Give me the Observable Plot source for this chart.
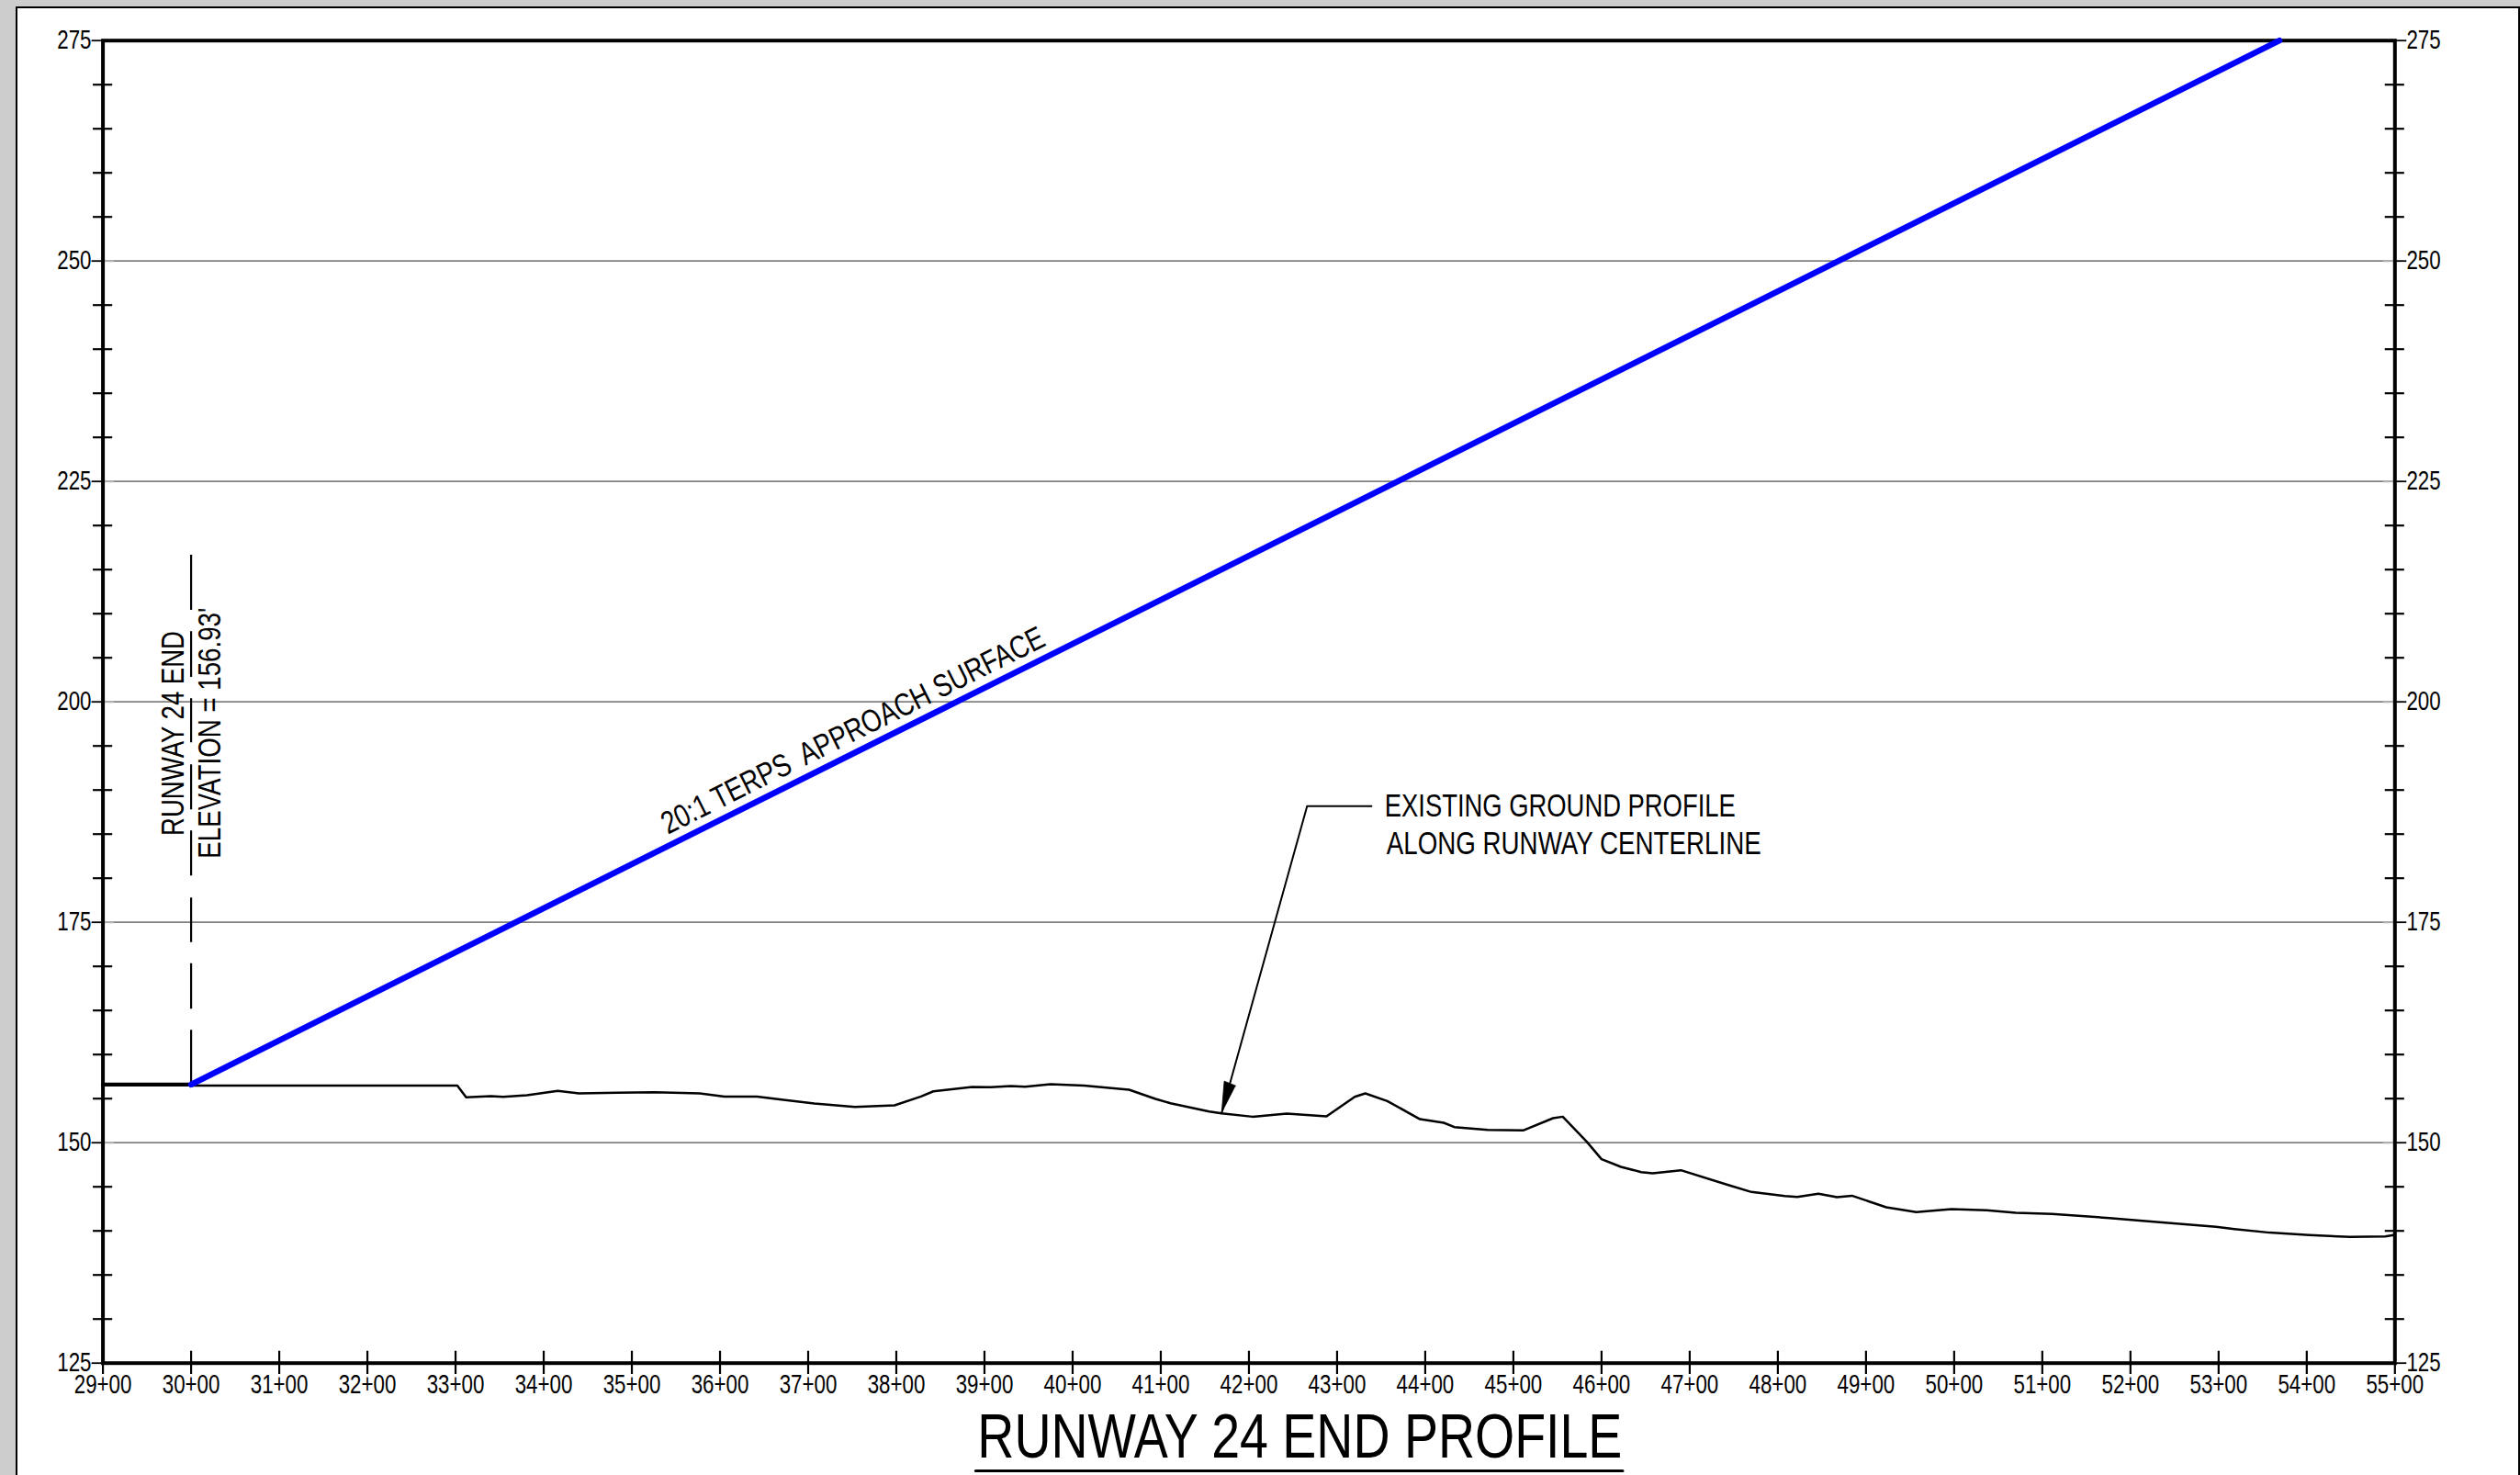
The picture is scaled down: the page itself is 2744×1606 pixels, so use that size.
<!DOCTYPE html>
<html>
<head>
<meta charset="utf-8">
<script src="https://cdn.jsdelivr.net/npm/d3@7"></script>
<script src="https://cdn.jsdelivr.net/npm/@observablehq/plot@0.6"></script>
<style>
html,body{margin:0;padding:0;background:#cdcdcd;width:2744px;height:1606px;overflow:hidden;}
#sheet{position:absolute;left:17px;top:7px;width:2723px;height:1700px;background:#fff;border:2px solid #000;}
#chart{position:absolute;left:0;top:0;}
</style>
</head>
<body>
<div id="sheet"></div>
<div id="chart"></div>
<script>
const stations = [29,30,31,32,33,34,35,36,37,38,39,40,41,42,43,44,45,46,47,48,49,50,51,52,53,54,55];
const majorElevations = [125,150,175,200,225,250,275];
const gridElevations = [150,175,200,225,250];
const minorElevations = [130,135,140,145,155,160,165,170,180,185,190,195,205,210,215,220,230,235,240,245,255,260,265,270];

const profileStations = [30,33.02,33.12,33.40,33.54,33.81,34.16,34.40,34.84,35.26,35.77,36.05,36.42,36.74,37.07,37.53,37.98,38.28,38.42,38.86,39.07,39.30,39.46,39.75,40.13,40.64,40.94,41.11,41.55,41.69,42.04,42.43,42.88,43.20,43.32,43.57,43.94,44.21,44.33,44.71,45.11,45.45,45.56,45.83,46.00,46.22,46.45,46.58,46.90,47.42,47.70,48.08,48.22,48.46,48.67,48.84,49.23,49.57,49.97,50.37,50.70,51.11,51.76,52.17,52.97,53.18,53.58,54.03,54.49,54.89,55];
const profileElevations = [156.49,156.49,155.14,155.28,155.21,155.38,155.87,155.59,155.66,155.73,155.59,155.24,155.24,154.83,154.45,154.06,154.24,155.24,155.83,156.32,156.29,156.43,156.36,156.63,156.49,156.01,154.97,154.48,153.54,153.33,152.95,153.30,152.99,155.21,155.59,154.72,152.67,152.26,151.77,151.46,151.39,152.78,152.95,150.14,148.13,147.26,146.67,146.53,146.88,145.25,144.41,143.96,143.86,144.21,143.82,143.99,142.68,142.12,142.47,142.33,142.05,141.91,141.46,141.12,140.46,140.21,139.80,139.52,139.31,139.38,139.55];
const profile = profileStations.map((s, i) => ({s, e: profileElevations[i]}));

const runwayStations = [29, 30];
const runwayElevations = [156.6, 156.6];
const surfaceStations = [30, 53.69];
const surfaceElevations = [156.6, 275];
const leaderStations = [43.39, 42.66, 41.69];
const leaderElevations = [188.18, 188.18, 153.33];
const arrowStations = [41.69, 41.72, 41.85];
const arrowElevations = [153.33, 156.98, 156.46];
const underlineStations = [38.90, 46.24];
const underlineElevations = [112.78, 112.78];

const zip = (xs, ys) => xs.map((s, i) => ({s, e: ys[i]}));
const sty = {x: "s", y: "e"};

const notes = [
  {t: "20:1 TERPS\u00a0 APPROACH SURFACE", s: 37.56, e: 195.70, r: -26.57, size: 34.5, w: 462, a: "middle"},
  {t: "RUNWAY 24 END", s: 29.914, e: 196.43, r: -90, size: 34.5, w: 223, a: "middle"},
  {t: "ELEVATION = 156.93'", s: 30.3375, e: 196.46, r: -90, size: 34.5, w: 273, a: "middle"},
  {t: "EXISTING GROUND PROFILE", s: 43.54, e: 186.95, r: 0, size: 34.5, w: 382, a: "start"},
  {t: "ALONG RUNWAY CENTERLINE", s: 43.56, e: 182.68, r: 0, size: 34.5, w: 408, a: "start"},
  {t: "RUNWAY 24 END PROFILE", s: 42.577, e: 114.24, r: 0, size: 68, w: 702, a: "middle"}
];

const textMark = d => Plot.text([d], {
  x: "s", y: "e", text: "t", rotate: d.r, fontSize: d.size, textAnchor: d.a,
  lineAnchor: "bottom", fill: "#000"
});

const plot = Plot.plot({
  width: 2744,
  height: 1606,
  marginLeft: 111.6,
  marginRight: 136.7,
  marginTop: 43.7,
  marginBottom: 122.3,
  style: {background: "transparent", fontFamily: "Liberation Sans", color: "#000", overflow: "visible"},
  x: {domain: [29, 55]},
  y: {domain: [125, 275]},
  marks: [
    Plot.ruleY(gridElevations, {stroke: "#808080", strokeWidth: 1.8}),
    Plot.ruleY(gridElevations, {x1: 29, x2: 29.13, stroke: "#b0b0b0", strokeWidth: 2}),
    Plot.ruleY(gridElevations, {x1: 54.87, x2: 55, stroke: "#b0b0b0", strokeWidth: 2}),
    Plot.ruleY(minorElevations, {x1: 28.89, x2: 29.11, stroke: "#000", strokeWidth: 2.2}),
    Plot.ruleY(minorElevations, {x1: 54.89, x2: 55.11, stroke: "#000", strokeWidth: 2.2}),
    Plot.ruleX(stations, {y1: 123.72, y2: 126.35, stroke: "#000", strokeWidth: 2.2}),
    Plot.axisX({ticks: stations, tickSize: 0, tickPadding: 12.2, fontSize: 29, label: null,
      tickFormat: d => `${d}+00`, anchor: "bottom"}),
    Plot.axisY({ticks: majorElevations, tickSize: 12, tickPadding: 0.6, fontSize: 29, label: null,
      anchor: "left", strokeWidth: 1.8}),
    Plot.axisY({ticks: majorElevations, tickSize: 12, tickPadding: 0.6, fontSize: 29, label: null,
      anchor: "right", strokeWidth: 1.8}),
    Plot.frame({stroke: "#000", strokeWidth: 4}),
    Plot.line(profile, {...sty, stroke: "#000", strokeWidth: 2.5, curve: "linear"}),
    Plot.line(zip(runwayStations, runwayElevations), {...sty, stroke: "#000", strokeWidth: 4.4}),
    Plot.ruleX([30], {y1: 156.6, y2: 216.64, stroke: "#000", strokeWidth: 2.2,
      strokeDasharray: "59,23,49.5,23,48.5,24,49,23,49,24,48,23.4,49.6,23.4,60.6,30"}),
    Plot.line(zip(leaderStations, leaderElevations), {...sty, stroke: "#000", strokeWidth: 2}),
    Plot.line(zip(arrowStations, arrowElevations), {...sty, fill: "#000", stroke: "#000", strokeWidth: 0.8}),
    Plot.line(zip(surfaceStations, surfaceElevations), {...sty, stroke: "#0000ff", strokeWidth: 6.5, strokeLinecap: "round"}),
    Plot.line(zip(underlineStations, underlineElevations), {...sty, stroke: "#000", strokeWidth: 3}),
    ...notes.map(textMark)
  ]
});

document.getElementById("chart").appendChild(plot);

const widths = new Map(notes.map(d => [d.t, d.w]));
plot.querySelectorAll("text").forEach(el => {
  const label = el.textContent;
  const target = widths.has(label) ? widths.get(label) : el.getComputedTextLength() * 0.77;
  el.setAttribute("textLength", target);
  el.setAttribute("lengthAdjust", "spacingAndGlyphs");
});
</script>
</body>
</html>
